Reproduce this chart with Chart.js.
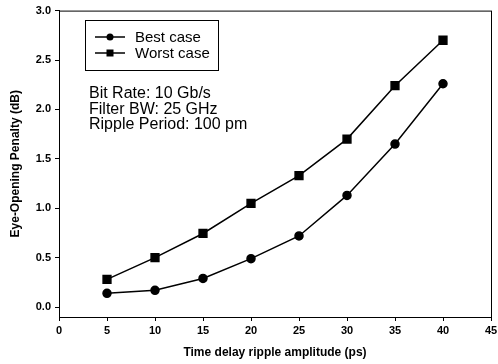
<!DOCTYPE html>
<html>
<head>
<meta charset="utf-8">
<script src="https://cdn.jsdelivr.net/npm/chart.js@4"></script>
<style>
    html, body { margin: 0; padding: 0; background: #fff; }
    #wrap { width: 498px; height: 364px; }
</style>
</head>
<body>
<div id="wrap"><canvas id="penalty"></canvas></div>
<script>
// ripple amplitude (ps)
const amplitudes = [5, 10, 15, 20, 25, 30, 35, 40];
// eye-opening penalty (dB)
const bestCase = [0.14, 0.17, 0.29, 0.49, 0.72, 1.13, 1.65, 2.26];
const worstCase = [0.28, 0.50, 0.745, 1.05, 1.33, 1.70, 2.24, 2.70];
const xTicks = [0, 5, 10, 15, 20, 25, 30, 35, 40, 45];
const yTicks = [0.0, 0.5, 1.0, 1.5, 2.0, 2.5, 3.0];
const seriesNames = ['Best case', 'Worst case'];
const notes = ['Bit Rate: 10 Gb/s', 'Filter BW: 25 GHz', 'Ripple Period: 100 pm'];

const FONT = '"Liberation Sans", Arial, sans-serif';

function toPoints(values) {
    return amplitudes.map((x, i) => ({ x: x, y: values[i] }));
}

// frame, legend box and the parameter notes
const decorations = {
    id: 'decorations',
    afterDraw(chart) {
        const ctx = chart.ctx;
        const area = chart.chartArea;
        ctx.save();
        ctx.strokeStyle = '#000';
        ctx.lineWidth = 1;
        ctx.strokeRect(area.left + 0.5, area.top + 0.5, area.right - area.left, area.bottom - area.top);

        // legend box
        ctx.strokeRect(85.5, 20.5, 133, 50);
        const styles = ['circle', 'rect'];
        seriesNames.forEach((name, i) => {
            const y = 37 + i * 16;
            ctx.beginPath();
            ctx.lineWidth = 1.5;
            ctx.moveTo(95, y);
            ctx.lineTo(125, y);
            ctx.stroke();
            ctx.fillStyle = '#000';
            if (styles[i] === 'circle') {
                ctx.beginPath();
                ctx.arc(110, y, 3.5, 0, Math.PI * 2);
                ctx.fill();
            } else {
                ctx.fillRect(106.5, y - 3.5, 7, 7);
            }
            ctx.font = '15px ' + FONT;
            ctx.textBaseline = 'middle';
            ctx.fillText(name, 135, y + 1);
        });

        ctx.font = '16px ' + FONT;
        ctx.fillStyle = '#000';
        ctx.textBaseline = 'middle';
        notes.forEach((t, i) => {
            ctx.fillText(t, 89, 94 + i * 15.5);
        });
        ctx.restore();
    }
};

const ctx = document.getElementById('penalty').getContext('2d');
new Chart(ctx, {
    type: 'line',
    data: {
        datasets: [{
            label: seriesNames[0],
            data: toPoints(bestCase),
            borderColor: '#000',
            backgroundColor: '#000',
            borderWidth: 1.5,
            pointStyle: 'circle',
            pointRadius: 4,
            tension: 0
        }, {
            label: seriesNames[1],
            data: toPoints(worstCase),
            borderColor: '#000',
            backgroundColor: '#000',
            borderWidth: 1.5,
            pointStyle: 'rect',
            pointRadius: 5.5,
            tension: 0
        }]
    },
    options: {
        responsive: true,
        maintainAspectRatio: false,
        animation: false,
        layout: { padding: { top: 9, right: 5, left: 0, bottom: 0 } },
        plugins: {
            legend: { display: false },
            tooltip: { enabled: false }
        },
        scales: {
            x: {
                type: 'linear',
                min: 0,
                max: 45,
                afterBuildTicks: scale => { scale.ticks = xTicks.map(v => ({ value: v })); },
                afterFit: scale => {
                    scale.height = 47;
                    scale.paddingRight = 0;
                },
                grid: { drawOnChartArea: false, color: '#000', tickLength: 4 },
                border: { color: '#000', width: 1 },
                ticks: {
                    color: '#000',
                    padding: 3,
                    maxRotation: 0,
                    font: { family: FONT, size: 11, weight: 'bold' }
                },
                title: {
                    display: true,
                    text: 'Time delay ripple amplitude (ps)',
                    color: '#000',
                    padding: { top: 2, bottom: 4 },
                    font: { family: FONT, size: 12, weight: 'bold' }
                }
            },
            y: {
                min: -0.1,
                max: 3.0,
                afterBuildTicks: scale => { scale.ticks = yTicks.map(v => ({ value: v })); },
                afterFit: scale => { scale.width = 59; },
                grid: { drawOnChartArea: false, color: '#000', tickLength: 4 },
                border: { color: '#000', width: 1 },
                ticks: {
                    color: '#000',
                    padding: 4,
                    callback: v => v.toFixed(1),
                    font: { family: FONT, size: 11, weight: 'bold' }
                },
                title: {
                    display: true,
                    text: 'Eye-Opening Penalty (dB)',
                    color: '#000',
                    padding: { top: 8, bottom: 2 },
                    font: { family: FONT, size: 12, weight: 'bold' }
                }
            }
        }
    },
    plugins: [decorations]
});
</script>
</body>
</html>
